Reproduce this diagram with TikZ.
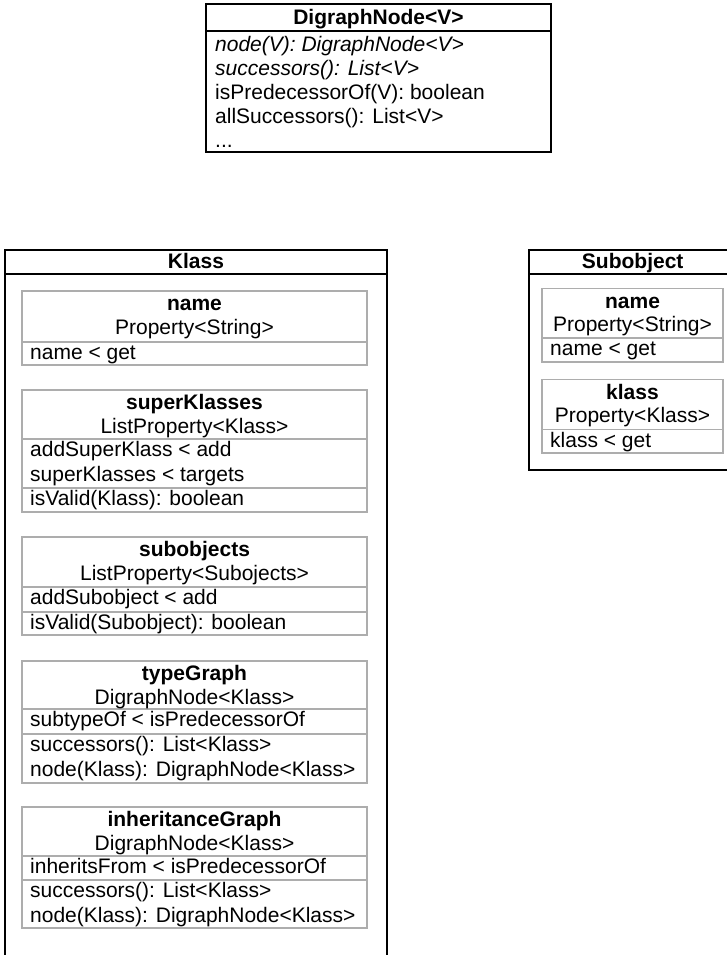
\documentclass[tikz,border=0pt]{standalone}
\usepackage{fontspec}
\setmainfont{Liberation Sans}
\begin{document}
\begin{tikzpicture}[x=1pt,y=-1pt,
  outer/.style={draw=black,line width=1.6pt},
  inner/.style={draw=black!32,line width=1.6pt},
  txt/.style={inner sep=0pt,anchor=base west,font=\fontsize{21}{24}\selectfont},
  ctxt/.style={inner sep=0pt,anchor=base,font=\fontsize{21}{24}\selectfont},
  btxt/.style={inner sep=0pt,anchor=base,font=\fontsize{21}{24}\selectfont\bfseries},
  itxt/.style={inner sep=0pt,anchor=base west,font=\fontsize{21}{24}\selectfont\itshape},
]
\useasboundingbox (0,0) rectangle (727,955);

% ---- DigraphNode<V> interface ----
\draw[outer] (206,4) rectangle (551,152);
\draw[outer] (206,31) -- (551,31);
\node[btxt] (dnTitle) at (378.5,25) {DigraphNode<V>};
\node[itxt] (dnNode) at (215,51.5) {node(V): DigraphNode<V>};
\node[itxt] (dnSucc) at (215,75.5) {successors(): List<V>};
\node[txt] (dnPred) at (215,100) {isPredecessorOf(V): boolean};
\node[txt] (dnAll) at (215,124) {allSuccessors(): List<V>};
\node[txt] (dnMore) at (215,147) {...};

% ---- Klass ----
\draw[outer] (5,962) -- (5,250) -- (387,250) -- (387,962);
\draw[outer] (5,274) -- (387,274);
\node[btxt] (kTitle) at (196,268) {Klass};

% name
\draw[inner] (22,291) rectangle (367,365);
\draw[inner] (22,342) -- (367,342);
\node[btxt] (kNameH) at (194.5,310.5) {name};
\node[ctxt] (kNameT) at (194.5,334) {Property<String>};
\node[txt] (kNameR) at (30,359.5) {name < get};

% superKlasses
\draw[inner] (22,390) rectangle (367,512);
\draw[inner] (22,439) -- (367,439);
\draw[inner] (22,488) -- (367,488);
\node[btxt] (kSupH) at (194.5,409.5) {superKlasses};
\node[ctxt] (kSupT) at (194.5,433) {ListProperty<Klass>};
\node[txt] (kSupA) at (30,456.5) {addSuperKlass < add};
\node[txt] (kSupB) at (30,481) {superKlasses < targets};
\node[txt] (kSupV) at (30,505.5) {isValid(Klass): boolean};

% subobjects
\draw[inner] (22,537) rectangle (367,635);
\draw[inner] (22,587) -- (367,587);
\draw[inner] (22,612) -- (367,612);
\node[btxt] (kSubH) at (194.5,556.5) {subobjects};
\node[ctxt] (kSubT) at (194.5,580) {ListProperty<Subojects>};
\node[txt] (kSubA) at (30,604.5) {addSubobject < add};
\node[txt] (kSubV) at (30,629.5) {isValid(Subobject): boolean};

% typeGraph
\draw[inner] (22,661) rectangle (367,783);
\draw[inner] (22,709) -- (367,709);
\draw[inner] (22,734) -- (367,734);
\node[btxt] (kTypH) at (194.5,680.5) {typeGraph};
\node[ctxt] (kTypT) at (194.5,704) {DigraphNode<Klass>};
\node[txt] (kTypA) at (30,726.5) {subtypeOf < isPredecessorOf};
\node[txt] (kTypS) at (30,751.5) {successors(): List<Klass>};
\node[txt] (kTypN) at (30,776) {node(Klass): DigraphNode<Klass>};

% inheritanceGraph
\draw[inner] (22,807) rectangle (367,928);
\draw[inner] (22,856) -- (367,856);
\draw[inner] (22,880) -- (367,880);
\node[btxt] (kInhH) at (194.5,826.5) {inheritanceGraph};
\node[ctxt] (kInhT) at (194.5,850) {DigraphNode<Klass>};
\node[txt] (kInhA) at (30,873.5) {inheritsFrom < isPredecessorOf};
\node[txt] (kInhS) at (30,897.5) {successors(): List<Klass>};
\node[txt] (kInhN) at (30,922) {node(Klass): DigraphNode<Klass>};

% ---- Subobject ----
\draw[outer] (740,470) -- (529,470) -- (529,250) -- (740,250);
\draw[outer] (529,274) -- (740,274);
\node[btxt] (sTitle) at (632.7,268) {Subobject};

% name
\draw[inner] (542,288.5) rectangle (723,362);
\draw[inner] (542,338) -- (723,338);
\node[btxt] (sNameH) at (632.5,308) {name};
\node[ctxt] (sNameT) at (632.5,331.5) {Property<String>};
\node[txt] (sNameR) at (550,355.5) {name < get};

% klass
\draw[inner] (542,379.5) rectangle (723,453);
\draw[inner] (542,429.5) -- (723,429.5);
\node[btxt] (sKlH) at (632.5,399) {klass};
\node[ctxt] (sKlT) at (632.5,422.5) {Property<Klass>};
\node[txt] (sKlR) at (550,447) {klass < get};
\end{tikzpicture}
\end{document}
